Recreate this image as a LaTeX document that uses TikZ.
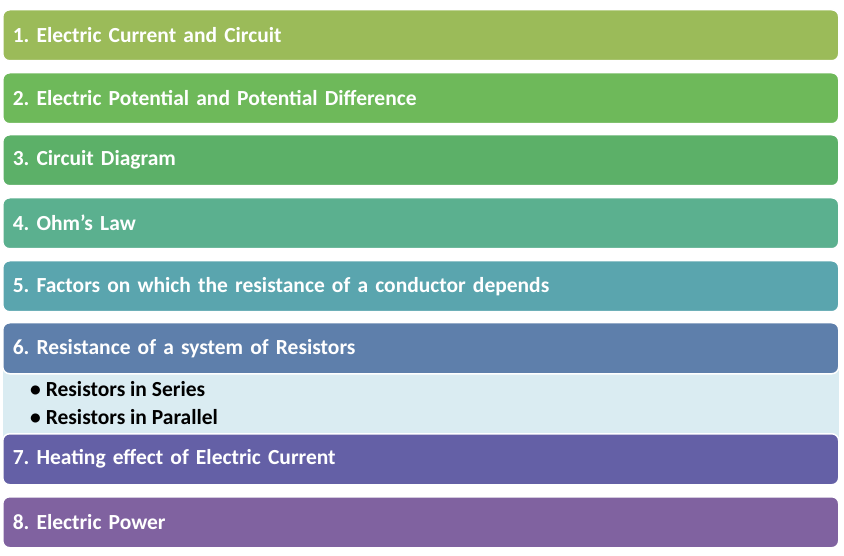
\documentclass[tikz,border=0pt]{standalone}
\usepackage{fontspec}
\setmainfont{Carlito}
\usepackage{tikz}
\frenchspacing
\definecolor{cOne}{RGB}{155,187,89}
\definecolor{cTwo}{RGB}{110,185,90}
\definecolor{cThree}{RGB}{92,176,104}
\definecolor{cFour}{RGB}{91,176,143}
\definecolor{cFive}{RGB}{90,165,174}
\definecolor{cSix}{RGB}{94,127,171}
\definecolor{cSeven}{RGB}{100,96,166}
\definecolor{cEight}{RGB}{128,98,160}
\definecolor{cPanel}{RGB}{218,236,242}
\tikzset{topic/.style={draw=white,line width=1.5pt,rounded corners=7pt,minimum width=836pt,minimum height=51pt,anchor=north west,text=white,font=\bfseries\fontsize{21.5}{25}\selectfont,align=left,text width=816pt,inner xsep=10pt},
sub/.style={anchor=west,inner sep=0pt,font=\bfseries\fontsize{21.5}{25}\selectfont}}
\begin{document}
\begin{tikzpicture}[x=1pt,y=1pt,yscale=-1]
\useasboundingbox (0,0) rectangle (844,556);

%Panel behind the sub items
\fill [cPanel] (3,365) rectangle (839,440);

% Topic Nodes
\node (t1) [topic,fill=cOne] at (2,9) {1. Electric Current and Circuit};
\node (t2) [topic,fill=cTwo] at (2,72) {2. Electric Potential and Potential Difference};
\node (t3) [topic,fill=cThree] at (2,134) {3. Circuit Diagram};
\node (t4) [topic,fill=cFour] at (2,197) {4. Ohm's Law};
\node (t5) [topic,fill=cFive] at (2,260) {5. Factors on which the resistance of a conductor depends};
\node (t6) [topic,fill=cSix] at (2,322) {6. Resistance of a system of Resistors};
\node (t7) [topic,fill=cSeven] at (2,433) {7. Heating effect of Electric Current};
\node (t8) [topic,fill=cEight] at (2,496) {8. Electric Power};

% Sub Items
\node (s1) [sub] at (30,389) {• Resistors in Series};
\node (s2) [sub] at (30,417) {• Resistors in Parallel};

\end{tikzpicture}
\end{document}
